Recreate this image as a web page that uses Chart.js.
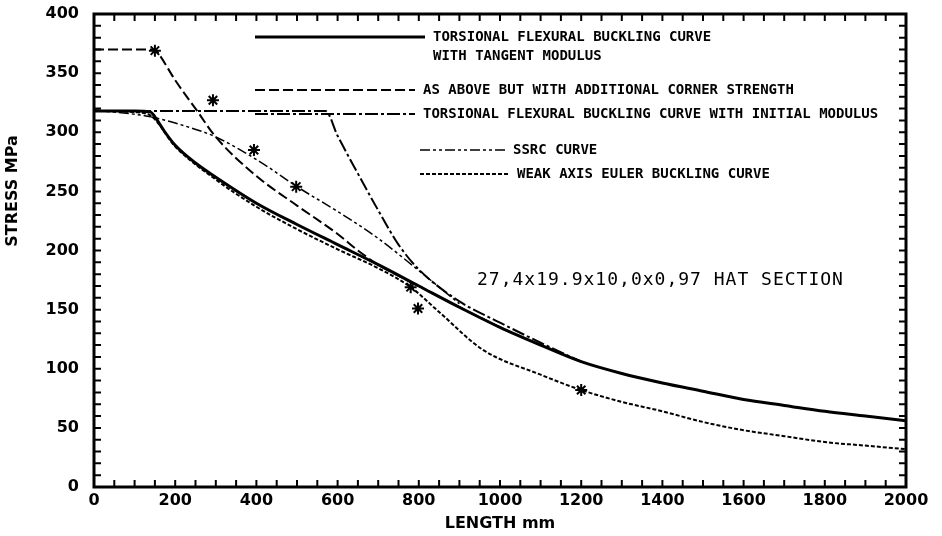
<!DOCTYPE html>
<html>
<head>
<meta charset="utf-8">
<script src="https://cdn.jsdelivr.net/npm/chart.js@4.4.0/dist/chart.umd.min.js"></script>
<style>
  body { margin: 0; background: #fff; }
  canvas { display: block; }
</style>
</head>
<body>
<canvas id="buckling" width="942" height="536"></canvas>
<script>
// values: length in mm, stress in MPa
var tangent_length = [0, 100, 140, 150, 175, 200, 250, 300, 400, 500, 600, 700, 800, 900, 1000, 1100, 1200, 1300, 1400, 1500, 1600, 1700, 1800, 1900, 2000];
var tangent_stress = [318, 318, 317, 313, 300, 289, 274, 262, 240, 222, 205, 188, 170, 152, 135, 120, 106, 96, 88, 81, 74, 69, 64, 60, 56];

var corner_length = [0, 150, 160, 200, 250, 300, 400, 500, 600, 650, 700, 800, 900, 1000];
var corner_stress = [370, 370, 366, 344, 320, 296, 263, 238, 214, 200, 188, 170, 152, 135];

var initial_length = [0, 570, 600, 650, 700, 750, 800, 900, 1000, 1100, 1200];
var initial_stress = [318, 318, 297, 265, 234, 205, 184, 157, 139, 122, 106];

var ssrc_length = [0, 140, 236, 300, 409, 500, 600, 697, 800, 900];
var ssrc_stress = [319, 313, 304, 296, 275, 254, 233, 211, 183, 155];

var euler_length = [0, 100, 140, 200, 300, 400, 500, 600, 700, 780, 850, 958, 1100, 1200, 1300, 1400, 1500, 1600, 1700, 1800, 1900, 2000];
var euler_stress = [318, 317, 314, 288, 260, 237, 218, 201, 185, 169, 148, 116, 95, 82, 72, 64, 55, 48, 43, 38, 35, 32];

// test results marked with *
var test_length = [150, 293, 394, 498, 780, 798, 1200];
var test_stress = [369, 327, 285, 254, 169, 151, 82];

var length_ticks = [0, 200, 400, 600, 800, 1000, 1200, 1400, 1600, 1800, 2000];
var stress_ticks = [0, 50, 100, 150, 200, 250, 300, 350, 400];

var series_labels = [
  'TORSIONAL FLEXURAL BUCKLING CURVE\nWITH TANGENT MODULUS',
  'AS ABOVE BUT WITH ADDITIONAL CORNER STRENGTH',
  'TORSIONAL FLEXURAL BUCKLING CURVE WITH INITIAL MODULUS',
  'SSRC CURVE',
  'WEAK AXIS EULER BUCKLING CURVE'
];
var section_note = '27,4x19.9x10,0x0,97 HAT SECTION';

function to_points(xs, ys)
{
  var pts = [];
  for (var i = 0; i < xs.length; i++) pts.push({x: xs[i], y: ys[i]});
  return pts;
}

function curve(label, xs, ys, width, dash)
{
  return {
    label: label,
    data: to_points(xs, ys),
    borderColor: '#000',
    borderWidth: width,
    borderDash: dash,
    pointRadius: 0,
    fill: false,
    cubicInterpolationMode: 'monotone'
  };
}

// where the hand drawn key sits inside the plot
var key_rows = [
  {x0: 255, x1: 425, y: 37, tx: 433},
  {x0: 255, x1: 415, y: 90, tx: 423},
  {x0: 255, x1: 415, y: 114, tx: 423},
  {x0: 420, x1: 505, y: 150, tx: 513},
  {x0: 420, x1: 510, y: 174, tx: 517}
];

var frame_plugin = {
  id: 'frame',
  afterDraw: function (chart) {
    var ctx = chart.ctx, a = chart.chartArea;
    var xs = chart.scales.x, ys = chart.scales.y;
    ctx.save();
    ctx.strokeStyle = '#000';
    ctx.fillStyle = '#000';
    ctx.setLineDash([]);
    ctx.lineWidth = 3;
    ctx.strokeRect(a.left, a.top, a.right - a.left, a.bottom - a.top);

    ctx.lineWidth = 2;
    ctx.beginPath();
    for (var v = 0; v <= 2000; v += 50) {
      var px = xs.getPixelForValue(v);
      ctx.moveTo(px, a.bottom); ctx.lineTo(px, a.bottom - 7);
      ctx.moveTo(px, a.top); ctx.lineTo(px, a.top + 7);
    }
    for (v = 0; v <= 400; v += 10) {
      var py = ys.getPixelForValue(v);
      ctx.moveTo(a.left, py); ctx.lineTo(a.left + 7, py);
      ctx.moveTo(a.right, py); ctx.lineTo(a.right - 7, py);
    }
    ctx.stroke();

    // key
    ctx.font = 'bold 14px "DejaVu Sans Mono"';
    ctx.textBaseline = 'middle';
    ctx.textAlign = 'left';
    key_rows.forEach(function (row, i) {
      var ds = chart.data.datasets[i];
      ctx.lineWidth = ds.borderWidth;
      ctx.setLineDash(ds.borderDash || []);
      ctx.beginPath();
      ctx.moveTo(row.x0, row.y);
      ctx.lineTo(row.x1, row.y);
      ctx.stroke();
      ds.label.split('\n').forEach(function (line, j) {
        ctx.fillText(line, row.tx, row.y + j * 19);
      });
    });

    ctx.font = '18px "DejaVu Sans Mono"';
    ctx.letterSpacing = '1px';
    ctx.fillText(section_note, 477, 280);
    ctx.letterSpacing = '0px';

    ctx.translate(13, 191);
    ctx.rotate(-Math.PI / 2);
    ctx.textAlign = 'center';
    ctx.font = 'bold 16px "DejaVu Sans"';
    ctx.fillText('STRESS MPa', 0, 0);
    ctx.restore();
  }
};

var tick_font = {family: 'DejaVu Sans', weight: 'bold', size: 16};
function plain(v) { return String(v); }

var chart_data = {
  datasets: [
    curve(series_labels[0], tangent_length, tangent_stress, 3, []),
    curve(series_labels[1], corner_length, corner_stress, 2, [10, 4]),
    curve(series_labels[2], initial_length, initial_stress, 2, [13, 3, 3, 3]),
    curve(series_labels[3], ssrc_length, ssrc_stress, 1.5, [10, 3, 3, 3, 3, 3]),
    curve(series_labels[4], euler_length, euler_stress, 2, [4, 2]),
    {
      label: 'tests',
      data: to_points(test_length, test_stress),
      showLine: false,
      pointStyle: 'star',
      pointRadius: 6,
      borderColor: '#000',
      borderWidth: 2
    }
  ]
};

window.onload = function ()
{
  new Chart(document.getElementById('buckling').getContext('2d'), {
    type: 'line',
    data: chart_data,
    plugins: [frame_plugin],
    options: {
      responsive: false,
      animation: false,
      layout: {padding: {left: 0, right: 36, top: 14, bottom: 0}},
      plugins: {legend: {display: false}, tooltip: {enabled: false}},
      scales: {
        x: {
          type: 'linear', min: 0, max: 2000,
          afterBuildTicks: function (s) { s.ticks = length_ticks.map(function (v) { return {value: v}; }); },
          afterFit: function (s) { s.height = 49; s.paddingLeft = 0; s.paddingRight = 0; },
          grid: {display: false, drawTicks: false},
          border: {display: false},
          ticks: {color: '#000', font: tick_font, padding: 4, maxRotation: 0, autoSkip: false, callback: plain},
          title: {display: true, text: 'LENGTH mm', color: '#000',
                  font: {family: 'DejaVu Sans', weight: 'bold', size: 16}, padding: {top: 0, bottom: 3}}
        },
        y: {
          type: 'linear', min: 0, max: 400,
          afterBuildTicks: function (s) { s.ticks = stress_ticks.map(function (v) { return {value: v}; }); },
          afterFit: function (s) { s.width = 94; s.paddingTop = 0; s.paddingBottom = 0; },
          grid: {display: false, drawTicks: false},
          border: {display: false},
          ticks: {color: '#000', font: tick_font, padding: 15, autoSkip: false, callback: plain}
        }
      }
    }
  });
};
</script>
</body>
</html>
